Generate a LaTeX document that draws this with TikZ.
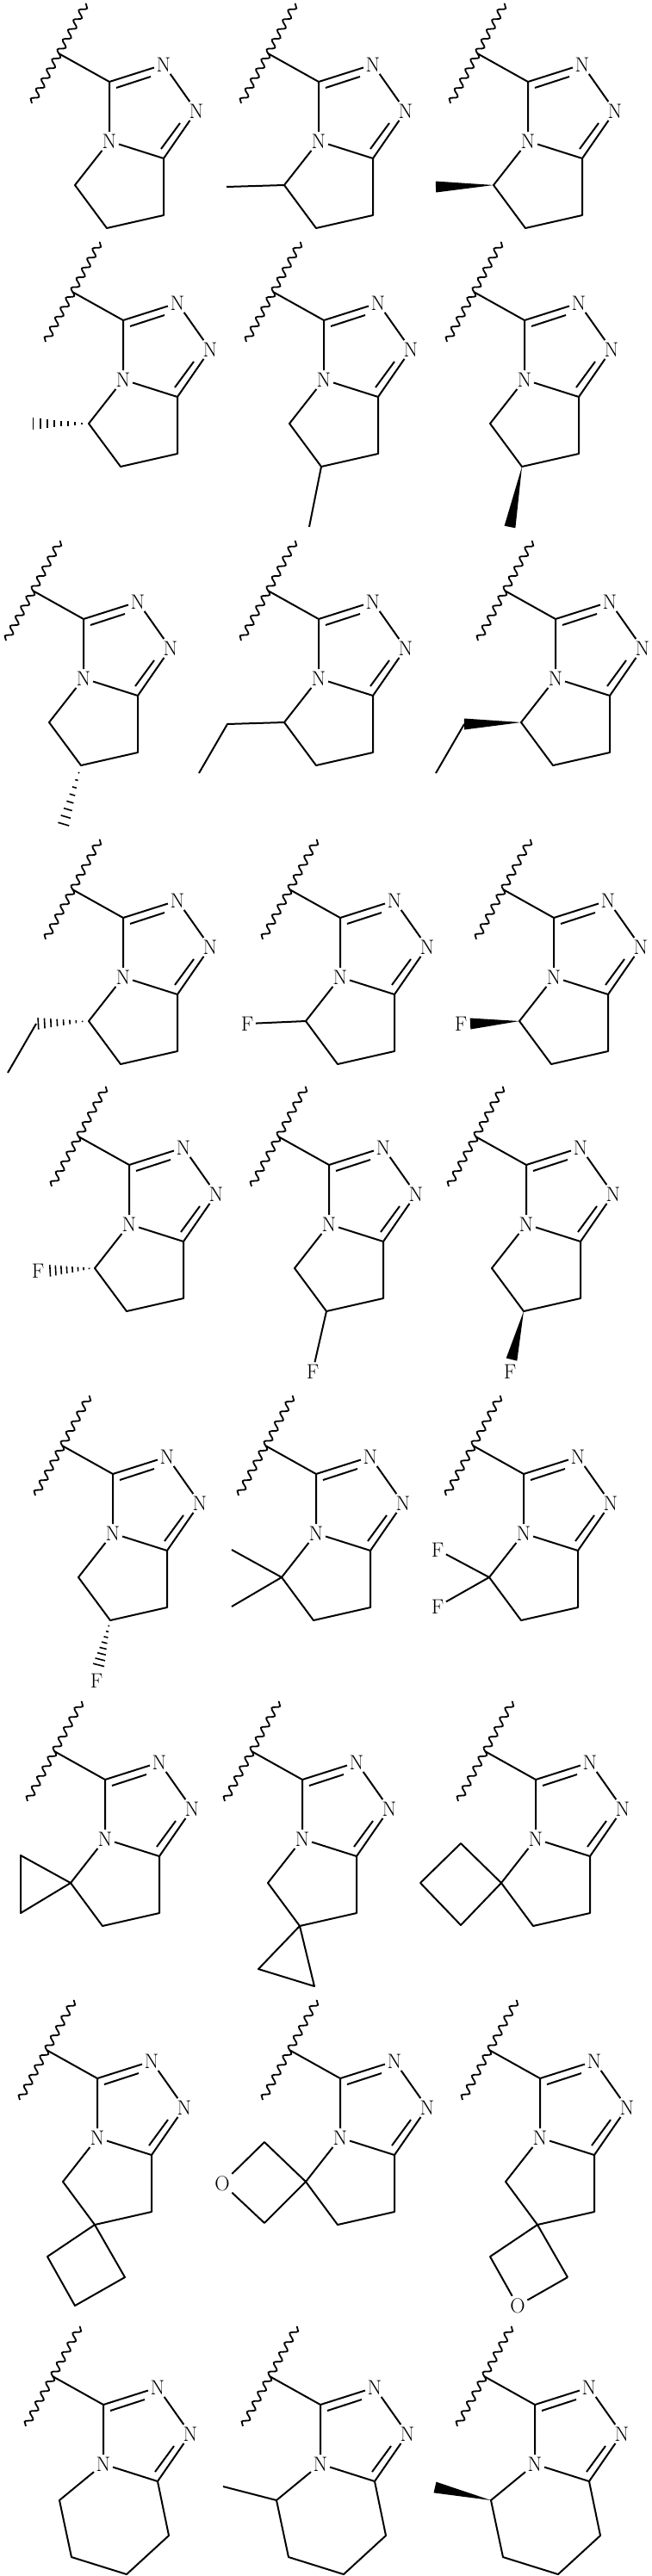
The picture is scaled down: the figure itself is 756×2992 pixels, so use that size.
\documentclass[tikz,border=0pt]{standalone}
\usetikzlibrary{calc,decorations.pathmorphing}
\tikzset{
 bond/.style={line width=2pt,line join=round},
 atom/.style={inner sep=2.5pt,font=\fontsize{24}{24}\selectfont},
 wavy/.style={line width=1.8pt,decorate,decoration={snake,segment length=13pt,amplitude=3.8pt}},
 hashline/.style={line width=1.6pt}
}
\newcommand\tria[1]{%
 \coordinate (#1C3) at (0,0);
 \node[atom] (#1N2) at (63,-20) {N};
 \node[atom] (#1N1) at (101,34) {N};
 \node[atom] (#1N4) at (0,69) {N};
 \coordinate (#1C8a) at (63,89);
 \coordinate (#1W) at (-59,-33);
 \coordinate (#1Wa) at (-90,25);
 \coordinate (#1Wb) at (-27,-91);
 \draw[wavy] (#1Wa) -- (#1Wb);
 \draw[bond] (#1W) -- (#1C3) -- (#1N2);
 \draw[bond] (8,7) -- (48,-6);
 \draw[bond] (#1N2) -- (#1N1);
 \draw[bond] (#1N1) -- (#1C8a);
 \draw[bond] (82,48) -- (60,78);
 \draw[bond] (#1C3) -- (#1N4) -- (#1C8a);
}
\newcommand\fivering[1]{%
 \tria{#1}
 \coordinate (#1C5) at (-40,120);
 \coordinate (#1C6) at (-3,170);
 \coordinate (#1C7) at (63,155);
 \draw[bond] (#1N4) -- (#1C5) -- (#1C6) -- (#1C7) -- (#1C8a);
}
\newcommand\sixring[1]{%
 \tria{#1}
 \coordinate (#1C5) at (-51,111);
 \coordinate (#1C6) at (-37,177);
 \coordinate (#1C7) at (27,197);
 \coordinate (#1C8) at (76,152);
 \draw[bond] (#1N4) -- (#1C5) -- (#1C6) -- (#1C7) -- (#1C8) -- (#1C8a);
}
\newcommand\hashbond[2]{%
 \foreach \t in {0.12,0.24,0.36,0.48,0.60,0.72,0.84,0.96}{%
  \pgfmathsetmacro\hw{\t*7}
  \coordinate (hp) at ($(#1)!\t!(#2)$);
  \draw[hashline] ($(hp)!\hw pt!90:(#2)$) -- ($(hp)!\hw pt!-90:(#2)$);
 }}
\newcommand\wedgebond[2]{%
 \fill ($(#2)!6.5pt!90:(#1)$) -- (#1) -- ($(#2)!6.5pt!-90:(#1)$) -- cycle;}
\begin{document}
\begin{tikzpicture}[x=1pt,y=-1pt]
\useasboundingbox[fill=white] (0,0) rectangle (756,2992);
% Row 1
\begin{scope}[shift={(127,95)}]\fivering{a1}\end{scope}
\begin{scope}[shift={(370,95)}]\fivering{b1}
 \coordinate (b1M) at (-107,122); \draw[bond] (b1C5) -- (b1M);\end{scope}
\begin{scope}[shift={(613,95)}]\fivering{c1}
 \coordinate (c1M) at (-107,122); \wedgebond{c1C5}{c1M}\end{scope}
% Row 2
\begin{scope}[shift={(143,372)}]\fivering{a2}
 \coordinate (a2M) at (-107,120); \hashbond{a2C5}{a2M}\end{scope}
\begin{scope}[shift={(376,372)}]\fivering{b2}
 \coordinate (b2M) at (-17,240); \draw[bond] (b2C6) -- (b2M);\end{scope}
\begin{scope}[shift={(609,372)}]\fivering{c2}
 \coordinate (c2M) at (-17,240); \wedgebond{c2C6}{c2M}\end{scope}
% Row 3
\begin{scope}[shift={(97,719)}]\fivering{a3}
 \coordinate (a3M) at (-24,241); \hashbond{a3C6}{a3M}\end{scope}
\begin{scope}[shift={(370,719)}]\fivering{b3}
 \coordinate (b3E1) at (-106,122); \coordinate (b3E2) at (-139,179);
 \draw[bond] (b3C5) -- (b3E1) -- (b3E2);\end{scope}
\begin{scope}[shift={(645,719)}]\fivering{c3}
 \coordinate (c3E1) at (-106,122); \coordinate (c3E2) at (-139,179);
 \wedgebond{c3C5}{c3E1} \draw[bond] (c3E1) -- (c3E2);\end{scope}
% Row 4
\begin{scope}[shift={(143,1066)}]\fivering{a4}
 \coordinate (a4E1) at (-101,123); \coordinate (a4E2) at (-134,180);
 \hashbond{a4C5}{a4E1} \draw[bond] (a4E1) -- (a4E2);\end{scope}
\begin{scope}[shift={(395,1066)}]\fivering{b4}
 \node[atom] (b4F) at (-108,123) {F}; \draw[bond] (b4C5) -- (b4F);\end{scope}
\begin{scope}[shift={(643,1066)}]\fivering{c4}
 \node[atom] (c4F) at (-108,123) {F}; \coordinate (c4M) at (-97,123);
 \wedgebond{c4C5}{c4M}\end{scope}
% Row 5
\begin{scope}[shift={(150,1353)}]\fivering{a5}
 \node[atom] (a5F) at (-106,123) {F}; \coordinate (a5M) at (-94,123);
 \hashbond{a5C5}{a5M}\end{scope}
\begin{scope}[shift={(382,1353)}]\fivering{b5}
 \node[atom] (b5F) at (-19,240) {F}; \draw[bond] (b5C6) -- (b5F);\end{scope}
\begin{scope}[shift={(611,1353)}]\fivering{c5}
 \node[atom] (c5F) at (-19,240) {F}; \coordinate (c5M) at (-17,226);
 \wedgebond{c5C6}{c5M}\end{scope}
% Row 6
\begin{scope}[shift={(131,1712)}]\fivering{a6}
 \node[atom] (a6F) at (-19,240) {F}; \coordinate (a6M) at (-17,224);
 \hashbond{a6C6}{a6M}\end{scope}
\begin{scope}[shift={(367,1712)}]\fivering{b6}
 \coordinate (b6M1) at (-98,88); \coordinate (b6M2) at (-98,154);
 \draw[bond] (b6M1) -- (b6C5) -- (b6M2);\end{scope}
\begin{scope}[shift={(608,1712)}]\fivering{c6}
 \node[atom] (c6F1) at (-100,88) {F}; \node[atom] (c6F2) at (-100,154) {F};
 \draw[bond] (c6F1) -- (c6C5) -- (c6F2);\end{scope}
% Row 7
\begin{scope}[shift={(122,2067)}]\fivering{a7}
 \coordinate (a7P) at (-98,88); \coordinate (a7Q) at (-98,155);
 \draw[bond] (a7C5) -- (a7P) -- (a7Q) -- cycle;\end{scope}
\begin{scope}[shift={(351,2067)}]\fivering{b7}
 \coordinate (b7P) at (-51,220); \coordinate (b7Q) at (14,240);
 \draw[bond] (b7C6) -- (b7P) -- (b7Q) -- cycle;\end{scope}
\begin{scope}[shift={(622,2067)}]\fivering{c7}
 \coordinate (c7P) at (-87,74); \coordinate (c7Q) at (-134,120); \coordinate (c7R) at (-87,169);
 \draw[bond] (c7C5) -- (c7P) -- (c7Q) -- (c7R) -- cycle;\end{scope}
% Row 8
\begin{scope}[shift={(113,2414)}]\fivering{a8}
 \coordinate (a8P) at (-58,207); \coordinate (a8Q) at (-26,264); \coordinate (a8R) at (32,231);
 \draw[bond] (a8C6) -- (a8P) -- (a8Q) -- (a8R) -- cycle;\end{scope}
\begin{scope}[shift={(395,2414)}]\fivering{b8}
 \coordinate (b8P) at (-88,74); \node[atom] (b8O) at (-137,122) {O}; \coordinate (b8R) at (-88,168);
 \draw[bond] (b8R) -- (b8C5) -- (b8P) -- (b8O) -- (b8R);\end{scope}
\begin{scope}[shift={(627,2414)}]\fivering{c8}
 \coordinate (c8P) at (-58,207); \node[atom] (c8O) at (-26,264) {O}; \coordinate (c8R) at (32,231);
 \draw[bond] (c8R) -- (c8C6) -- (c8P) -- (c8O) -- (c8R);\end{scope}
% Row 9
\begin{scope}[shift={(120,2793)}]\sixring{a9}\end{scope}
\begin{scope}[shift={(372,2793)}]\sixring{b9}
 \coordinate (b9M) at (-113,95); \draw[bond] (b9C5) -- (b9M);\end{scope}
\begin{scope}[shift={(621,2793)}]\sixring{c9}
 \coordinate (c9M) at (-116,96); \wedgebond{c9C5}{c9M}\end{scope}
\end{tikzpicture}
\end{document}
